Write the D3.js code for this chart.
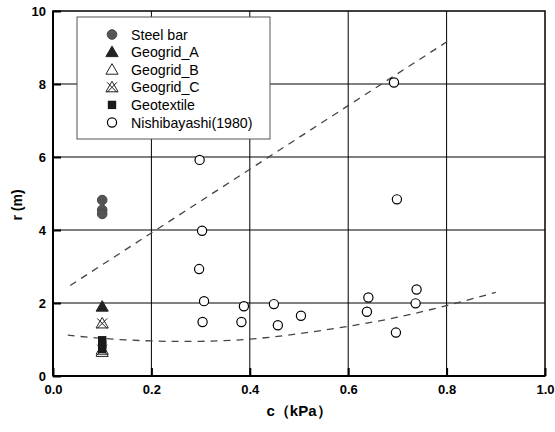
<!DOCTYPE html>
<html><head><meta charset="utf-8">
<script src="https://cdn.jsdelivr.net/npm/d3@7"></script>
<style>body{margin:0;background:#fff}svg{display:block}text{font-family:Arial,"Liberation Sans",sans-serif}</style>
</head><body><svg id="c" width="555" height="432"></svg>
<script>
const xTicks = [0.0, 0.2, 0.4, 0.6, 0.8, 1.0];
const yTicks = [0, 2, 4, 6, 8, 10];
const steelBar = [[0.1, 4.82], [0.1, 4.55], [0.1, 4.44]];
const geogridA = [[0.1, 1.9]];
const geogridB = [[0.1, 0.66]];
const geogridC = [[0.1, 1.44], [0.1, 0.72]];
const geotextile = [[0.1, 0.98], [0.1, 0.86], [0.1, 0.74]];
const nishibayashi = [[0.298, 5.92], [0.303, 3.98], [0.297, 2.93], [0.307, 2.05], [0.304, 1.48],
  [0.388, 1.91], [0.383, 1.48], [0.449, 1.97], [0.457, 1.39], [0.504, 1.65],
  [0.641, 2.15], [0.638, 1.76], [0.697, 1.19], [0.699, 4.84], [0.739, 2.37],
  [0.737, 1.99], [0.693, 8.04]];
const upperLine = [[0.035, 2.48], [0.81, 9.24]];
const lowerCurve = [[0.03, 1.12], [0.1, 1.03], [0.2, 0.96], [0.3, 0.95], [0.4, 1.01], [0.5, 1.16],
  [0.6, 1.36], [0.7, 1.61], [0.8, 1.93], [0.9, 2.29]];
const legendItems = ["Steel bar", "Geogrid_A", "Geogrid_B", "Geogrid_C", "Geotextile", "Nishibayashi(1980)"];

const svg = d3.select("#c");
const L = 53, R = 545, T = 11, B = 376;
const x = d3.scaleLinear().domain([0, 1]).range([L, R]);
const y = d3.scaleLinear().domain([0, 10]).range([B, T]);

// grid
svg.append("g").selectAll("line").data(xTicks.slice(1, -1)).join("line")
  .attr("x1", d => x(d)).attr("x2", d => x(d)).attr("y1", T).attr("y2", B)
  .attr("stroke", "#000").attr("stroke-width", 1);
svg.append("g").selectAll("line").data(yTicks.slice(1, -1)).join("line")
  .attr("y1", d => y(d)).attr("y2", d => y(d)).attr("x1", L).attr("x2", R)
  .attr("stroke", "#000").attr("stroke-width", 1);

// axes
const xa = svg.append("g").attr("transform", `translate(0,${B})`)
  .call(d3.axisBottom(x).tickValues(xTicks).tickFormat(d3.format(".1f")).tickSizeInner(-8).tickSizeOuter(0).tickPadding(9));
const ya = svg.append("g").attr("transform", `translate(${L},0)`)
  .call(d3.axisLeft(y).tickValues(yTicks).tickFormat(d3.format("d")).tickSizeInner(-8).tickSizeOuter(0).tickPadding(7));
[xa, ya].forEach(g => {
  g.select(".domain").remove();
  g.selectAll(".tick line").attr("stroke", "#000").attr("stroke-width", 2);
  g.selectAll("text").attr("font-size", 13).attr("font-weight", "bold").attr("fill", "#000");
});
ya.selectAll("text").attr("dy", "0.35em");

// frame
svg.append("rect").attr("x", L).attr("y", T).attr("width", R - L).attr("height", B - T)
  .attr("fill", "none").attr("stroke", "#000").attr("stroke-width", 1.5);
svg.append("line").attr("x1", L).attr("x2", L).attr("y1", T).attr("y2", B).attr("stroke", "#000").attr("stroke-width", 2);
svg.append("line").attr("x1", L).attr("x2", R).attr("y1", B).attr("y2", B).attr("stroke", "#000").attr("stroke-width", 2);

// dashed lines
const line = d3.line().x(d => x(d[0])).y(d => y(d[1]));
svg.append("path").attr("d", line(upperLine)).attr("fill", "none")
  .attr("stroke", "#444").attr("stroke-width", 1.3).attr("stroke-dasharray", "7,6");
svg.append("path").attr("d", line.curve(d3.curveNatural)(lowerCurve)).attr("fill", "none")
  .attr("stroke", "#444").attr("stroke-width", 1.3).attr("stroke-dasharray", "7,6");

// markers
const tri = d3.symbol().type(d3.symbolTriangle).size(64)();
const sq = d3.symbol().type(d3.symbolSquare).size(70)();
function drawTri(g, filled, cross) {
  g.append("path").attr("d", tri).attr("transform", "translate(0,1)")
    .attr("fill", filled ? "#222" : "#fff").attr("stroke", "#222").attr("stroke-width", 1);
  if (cross) {
    g.append("path").attr("d", "M-5,-5L5,5M5,-5L-5,5").attr("stroke", "#222").attr("stroke-width", 1).attr("fill", "none");
  }
}
function drawMarker(g, k) {
  if (k === 0) g.append("circle").attr("r", 4.8).attr("fill", "#555").attr("stroke", "#444");
  else if (k === 1) drawTri(g, true, false);
  else if (k === 2) drawTri(g, false, false);
  else if (k === 3) drawTri(g, false, true);
  else if (k === 4) g.append("path").attr("d", sq).attr("fill", "#1a1a1a");
  else g.append("circle").attr("r", 4.6).attr("fill", "#fff").attr("stroke", "#000").attr("stroke-width", 1.2);
}
const sets = [steelBar, geogridA, geogridB, geogridC, geotextile, nishibayashi];
const order = [2, 3, 4, 1, 0, 5];
order.forEach(k => {
  sets[k].forEach(d => {
    const g = svg.append("g").attr("transform", `translate(${x(d[0])},${y(d[1])})`);
    drawMarker(g, k);
  });
});

// legend
const lg = svg.append("g");
lg.append("rect").attr("x", 77).attr("y", 17).attr("width", 193).attr("height", 122)
  .attr("fill", "#fff").attr("stroke", "#555").attr("stroke-width", 1);
legendItems.forEach((t, i) => {
  const cy = 34.5 + i * 17.6;
  const g = lg.append("g").attr("transform", `translate(112,${cy})`);
  drawMarker(g, i);
  lg.append("text").attr("x", 131).attr("y", cy).attr("dy", "0.36em")
    .attr("font-size", 14.2).attr("fill", "#000").text(t);
});

// titles
svg.append("text").attr("x", (L + R) / 2).attr("y", 416).attr("text-anchor", "middle")
  .attr("font-size", 15).attr("font-weight", "bold").text("c（kPa）");
svg.append("text").attr("transform", "translate(22,205) rotate(-90)").attr("text-anchor", "middle")
  .attr("font-size", 14).attr("font-weight", "bold").text("r (m)");
</script></body></html>
